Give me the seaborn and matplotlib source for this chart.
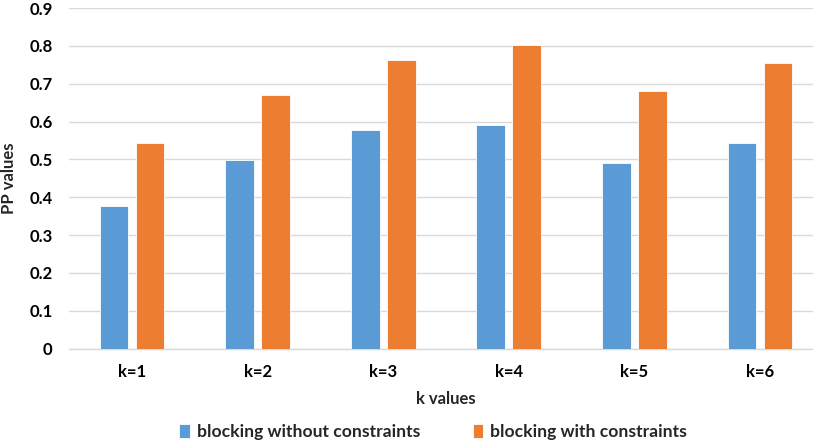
import matplotlib
matplotlib.use("Agg")
import matplotlib.pyplot as plt
import seaborn as sns
import pandas as pd

categories = ["k=1", "k=2", "k=3", "k=4", "k=5", "k=6"]
without_constraints = [0.377, 0.499, 0.578, 0.591, 0.490, 0.544]
with_constraints = [0.543, 0.670, 0.763, 0.801, 0.680, 0.755]
series_names = ["blocking without constraints", "blocking with constraints"]
y_ticks = [0, 0.1, 0.2, 0.3, 0.4, 0.5, 0.6, 0.7, 0.8, 0.9]
y_tick_labels = ["0", "0.1", "0.2", "0.3", "0.4", "0.5", "0.6", "0.7", "0.8", "0.9"]

df = pd.DataFrame({
    "k": categories * 2,
    "pp": without_constraints + with_constraints,
    "series": [series_names[0]] * len(categories) + [series_names[1]] * len(categories),
})

sns.set_theme(style="white")
plt.rcParams["font.family"] = ["Lato", "DejaVu Sans"]
plt.rcParams["font.weight"] = "bold"

FS = 12

fig = plt.figure(figsize=(8.13, 4.45), dpi=100)
# plot area runs slightly past the right edge of the canvas
ax = fig.add_axes([0.0851, 0.2165, 0.927, 0.7655])

palette = {series_names[0]: "#5B9BD5", series_names[1]: "#ED7D31"}
sns.barplot(data=df, x="k", y="pp", hue="series", palette=palette,
            width=0.573, gap=0.2, saturation=1, ax=ax,
            edgecolor="#ffffff", linewidth=0.6, legend=True, zorder=3)

ax.set_ylim(0, 0.9)
ax.set_xlim(-0.5, 5.5)
ax.set_yticks(y_ticks)
ax.set_yticklabels(y_tick_labels, fontsize=FS, fontweight="bold", color="#000000")
ax.set_xticks(range(len(categories)))
ax.set_xticklabels(categories, fontsize=FS, fontweight="bold", color="#000000")
ax.tick_params(axis="both", length=0)
ax.tick_params(axis="x", pad=11)
ax.tick_params(axis="y", pad=12)
ax.yaxis.grid(True, color="#D9D9D9", linewidth=1.0, zorder=0)
ax.set_axisbelow(True)
for side in ["top", "right", "left"]:
    ax.spines[side].set_visible(False)
ax.spines["bottom"].set_color("#D9D9D9")
ax.spines["bottom"].set_linewidth(1.0)

ax.set_xlabel("k values", fontsize=FS, fontweight="bold", labelpad=8)
ax.set_ylabel("PP values", fontsize=FS, fontweight="bold")
ax.yaxis.set_label_coords(-0.069, 0.5)

handles, labels = ax.get_legend_handles_labels()
ax.get_legend().remove()
fig.legend(handles, labels, loc="center", bbox_to_anchor=(0.533, 0.029),
           ncol=2, frameon=False, handlelength=0.6, handleheight=0.8,
           handletextpad=0.4, columnspacing=3.0,
           prop={"size": 12.6, "weight": "bold"})

fig.savefig("out.png", dpi=100)
